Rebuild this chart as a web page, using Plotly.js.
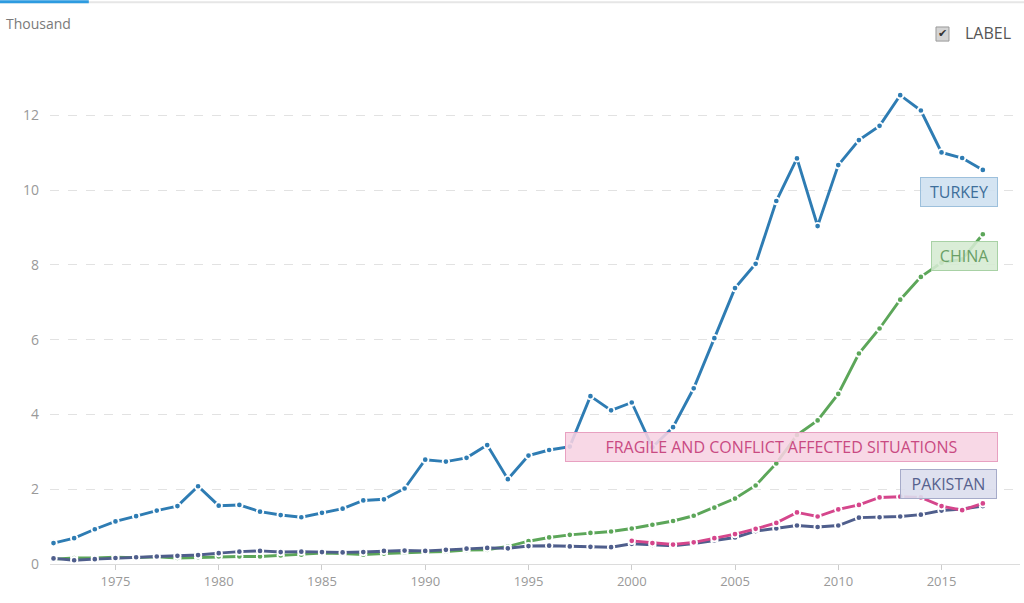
<!DOCTYPE html>
<html>
<head>
<meta charset="utf-8">
<script src="https://cdn.plot.ly/plotly-3.0.1.min.js"></script>
<style>
  html, body { margin: 0; padding: 0; background: #fff; }
  #chart { width: 1024px; height: 603px; }
</style>
</head>
<body>
<div id="chart"></div>
<script>
// GDP per capita, thousand
const years = [];
for (let y = 1972; y <= 2017; y++) years.push(y);
const fcsYears = years.filter(y => y >= 2000);

const turkey = [0.56, 0.69, 0.93, 1.14, 1.28, 1.43, 1.55, 2.08, 1.56, 1.58, 1.40, 1.31, 1.25, 1.37,
  1.48, 1.70, 1.73, 2.02, 2.79, 2.74, 2.84, 3.18, 2.27, 2.90, 3.05, 3.14, 4.49, 4.11, 4.32, 3.12,
  3.66, 4.70, 6.04, 7.38, 8.03, 9.71, 10.85, 9.04, 10.67, 11.34, 11.72, 12.54, 12.13, 11.01, 10.86, 10.54];

const china = [0.13, 0.16, 0.16, 0.18, 0.17, 0.19, 0.16, 0.18, 0.20, 0.20, 0.20, 0.23, 0.25, 0.29,
  0.28, 0.25, 0.28, 0.31, 0.32, 0.33, 0.37, 0.38, 0.47, 0.61, 0.71, 0.78, 0.83, 0.87, 0.95, 1.05,
  1.15, 1.29, 1.51, 1.75, 2.10, 2.69, 3.45, 3.84, 4.55, 5.63, 6.30, 7.07, 7.68, 8.06, 8.15, 8.82];

const pakistan = [0.15, 0.10, 0.13, 0.16, 0.18, 0.20, 0.22, 0.24, 0.29, 0.33, 0.35, 0.32, 0.33, 0.32,
  0.31, 0.32, 0.35, 0.36, 0.35, 0.38, 0.41, 0.43, 0.42, 0.48, 0.49, 0.47, 0.46, 0.45, 0.54, 0.51,
  0.49, 0.55, 0.63, 0.71, 0.88, 0.95, 1.03, 0.99, 1.03, 1.24, 1.25, 1.27, 1.32, 1.43, 1.47, 1.55];

const fcs = [0.62, 0.56, 0.52, 0.58, 0.69, 0.80, 0.94, 1.10, 1.38, 1.27, 1.46, 1.58, 1.78, 1.80,
  1.78, 1.55, 1.44, 1.62];

const series = [
  { name: 'CHINA', x: years, y: china, color: '#5ca659' },
  { name: 'PAKISTAN', x: years, y: pakistan, color: '#4f5e8c' },
  { name: 'FRAGILE AND CONFLICT AFFECTED SITUATIONS', x: fcsYears, y: fcs, color: '#d5468c' },
  { name: 'TURKEY', x: years, y: turkey, color: '#2e7cb3' }
];

const traces = series.map(s => ({
  x: s.x,
  y: s.y,
  name: s.name,
  type: 'scatter',
  mode: 'lines+markers',
  line: { color: s.color, width: 2.9 },
  marker: { color: s.color, size: 6.5, line: { color: '#fff', width: 1.8 } },
  hoverinfo: 'skip'
}));

// line-end labels
const labels = [
  { text: 'TURKEY', x: 2015.87, y: 9.94, w: 64, bg: 'rgba(206,224,240,0.88)', border: '#9dc0dc', font: '#3e6f9b' },
  { text: 'CHINA', x: 2016.09, y: 8.23, w: 53, bg: 'rgba(213,234,210,0.88)', border: '#a8d1a5', font: '#6a9f66' },
  { text: 'FRAGILE AND CONFLICT AFFECTED SITUATIONS', x: 2007.25, y: 3.14, w: 419,
    bg: 'rgba(247,211,226,0.88)', border: '#e8a1c1', font: '#c94a82' },
  { text: 'PAKISTAN', x: 2015.34, y: 2.15, w: 83, bg: 'rgba(219,222,237,0.9)', border: '#a6abc9', font: '#56618e' }
];

const annotations = labels.map(l => ({
  text: l.text,
  x: l.x, y: l.y, xref: 'x', yref: 'y',
  xanchor: 'center', yanchor: 'middle',
  showarrow: false,
  bgcolor: l.bg,
  bordercolor: l.border,
  borderwidth: 1,
  borderpad: 6,
  width: l.w,
  height: 16,
  font: { family: 'Open Sans', size: 16, color: l.font }
}));

annotations.push(
  { text: 'Thousand', xref: 'paper', yref: 'paper', x: -0.047, y: 1.113, xanchor: 'left', yanchor: 'middle',
    showarrow: false, font: { family: 'Open Sans', size: 14, color: '#7a7a7a' } },
  { text: 'LABEL', xref: 'paper', yref: 'paper', x: 0.9925, y: 1.093, xanchor: 'right', yanchor: 'middle',
    showarrow: false, font: { family: 'Open Sans', size: 16, color: '#555' } },
  { text: '✔', xref: 'paper', yref: 'paper', x: 0.9201, y: 1.091, xanchor: 'center', yanchor: 'middle',
    showarrow: false, font: { family: 'DejaVu Sans', size: 11, color: '#333' } }
);

const layout = {
  width: 1024,
  height: 603,
  margin: { l: 50, r: 4, t: 78, b: 39 },
  paper_bgcolor: '#fff',
  plot_bgcolor: '#fff',
  showlegend: false,
  hovermode: false,
  font: { family: 'Open Sans', color: '#999' },
  xaxis: {
    range: [1971.83, 2018.8],
    tickvals: [1975, 1980, 1985, 1990, 1995, 2000, 2005, 2010, 2015],
    showgrid: false,
    zeroline: false,
    showline: true,
    linecolor: '#dcdcdc',
    linewidth: 1,
    ticks: 'outside',
    ticklen: 5,
    tickcolor: '#ccc',
    tickfont: { size: 13, color: '#999' }
  },
  yaxis: {
    range: [0, 13],
    tickvals: [0, 2, 4, 6, 8, 10, 12],
    showgrid: true,
    gridcolor: '#e2e2e2',
    griddash: 'dash',
    zeroline: false,
    showline: false,
    ticks: '',
    ticklabelstandoff: 10,
    tickfont: { size: 14, color: '#999' }
  },
  annotations: annotations,
  shapes: [
    { type: 'line', xref: 'paper', yref: 'paper', x0: -0.06, x1: 1.01, y0: 1.156, y1: 1.156,
      line: { color: '#e6e6e6', width: 2 } },
    { type: 'line', xref: 'paper', yref: 'paper', x0: -0.06, x1: 0.04, y0: 1.157, y1: 1.157,
      line: { color: '#2d9be0', width: 3 } },
    { type: 'rect', xref: 'paper', yref: 'paper', x0: 0.9134, x1: 0.9268, y0: 1.076, y1: 1.105,
      fillcolor: '#d4d4d4', line: { color: '#9a9a9a', width: 1 } }
  ]
};

Plotly.newPlot('chart', traces, layout, { displayModeBar: false, staticPlot: true });
</script>
</body>
</html>
